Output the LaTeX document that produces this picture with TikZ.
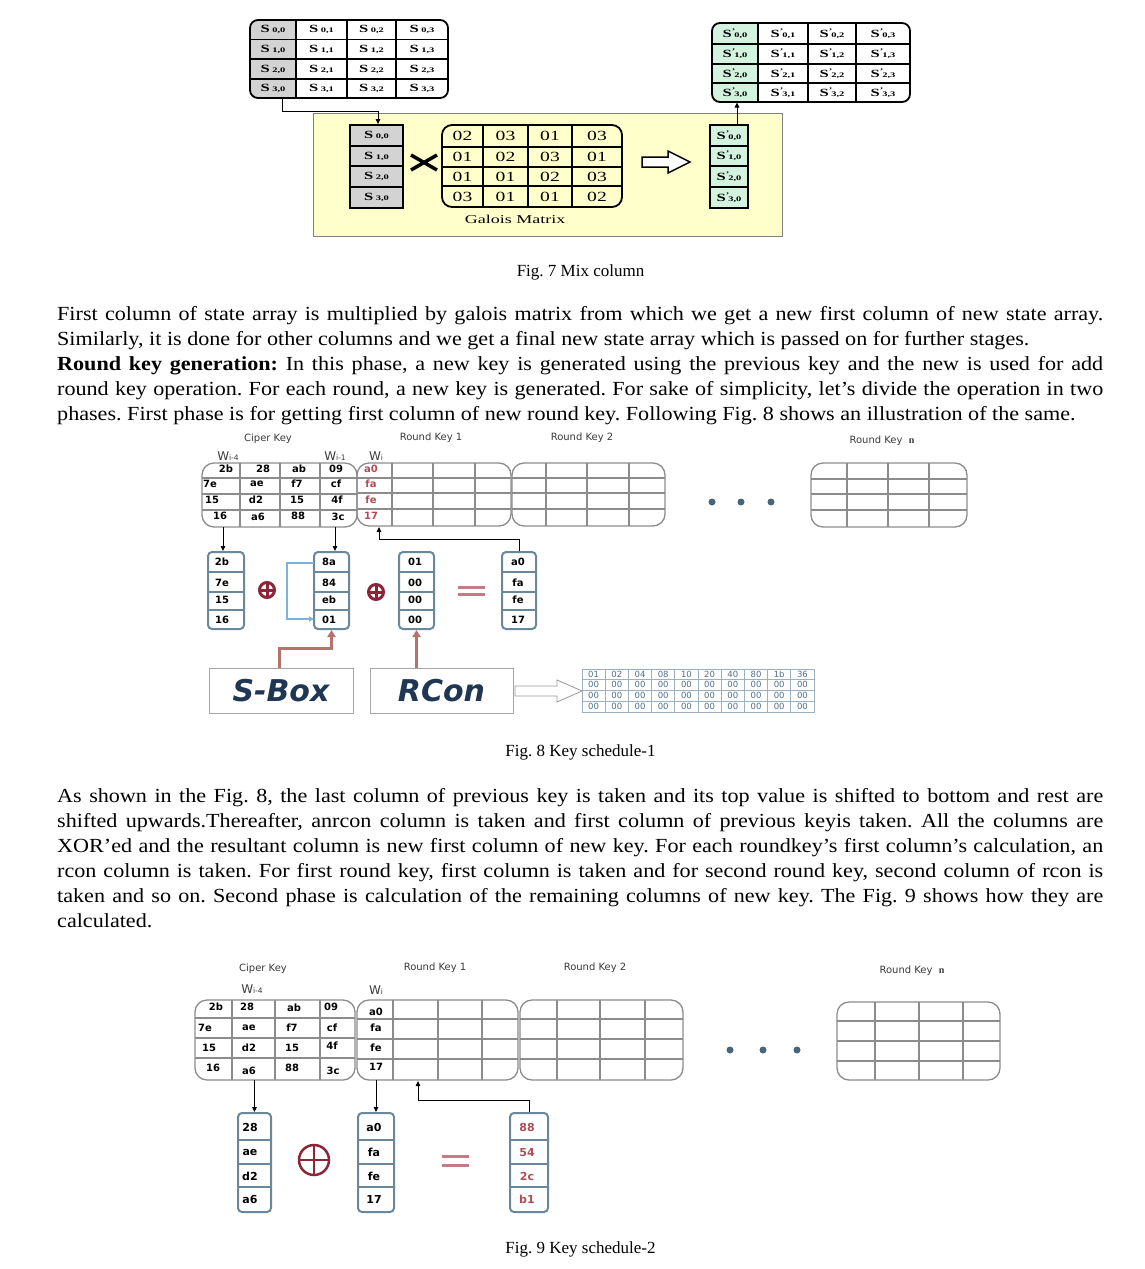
\documentclass[tikz,border=0pt]{standalone}
\usepackage{fontspec}
\usepackage{graphicx}
\setmainfont{Liberation Serif}
\newfontfamily\dvs{DejaVu Sans}
\usetikzlibrary{arrows.meta}
\frenchspacing
\definecolor{sgray}{HTML}{D3D3D3}
\definecolor{sgreen}{HTML}{D3F3DF}
\definecolor{syellow}{HTML}{FFFFCC}
\definecolor{gridgray}{HTML}{8C8C8C}
\definecolor{steel}{HTML}{6A889C}
\definecolor{xred}{HTML}{8E2438}
\definecolor{eqred}{HTML}{C57A84}
\definecolor{kred}{HTML}{B04C56}
\definecolor{brownc}{HTML}{B5736E}
\definecolor{lblue}{HTML}{7DB3D6}
\definecolor{navyc}{HTML}{1F3752}
\definecolor{dotc}{HTML}{46677B}
\definecolor{rcline}{HTML}{9DB0C2}
\definecolor{rctext}{HTML}{4D6F8E}
\definecolor{labgray}{HTML}{3A3A3A}
\newcommand\bodyfont{\fontsize{20}{25}\selectfont\frenchspacing}
\newcommand\jline[1]{\scalebox{1.106}[1]{\hbox to 945.8pt{#1}}}
\newcommand\nline[1]{\scalebox{1.106}[1]{#1}}
\newcommand\stv[1]{\scalebox{1.5}[1]{{\fontsize{11}{11}\selectfont\bfseries S}\,{\fontsize{7}{7}\selectfont\bfseries #1}}}
\newcommand\stvp[1]{\scalebox{1.5}[1]{{\fontsize{11}{11}\selectfont\bfseries S}\rlap{\raisebox{4pt}{\fontsize{7}{7}\selectfont\bfseries '}}\,{\fontsize{7}{7}\selectfont\bfseries #1}}}
\newcommand\wsub[1]{{\fontsize{7.5}{7.5}\selectfont #1}}
\newcommand\kgrid[5]{\def\kxa{#1}\def\kxb{#2}\def\kxc{#3}\def\kxd{#4}\def\kxe{#5}\kgridy}
\newcommand\kgridy[7]{%
 \begin{scope}
  \clip[rounded corners=#6] (\kxa,#1) rectangle (\kxe,#5);
  \draw[#7] (\kxb,#1) -- (\kxb,#5) (\kxc,#1) -- (\kxc,#5) (\kxd,#1) -- (\kxd,#5)
     (\kxa,#2) -- (\kxe,#2) (\kxa,#3) -- (\kxe,#3) (\kxa,#4) -- (\kxe,#4);
 \end{scope}
 \draw[#7, rounded corners=#6] (\kxa,#1) rectangle (\kxe,#5);}
\begin{document}
\begin{tikzpicture}[x=1pt,y=-1pt,
  conn/.style={line width=0.9pt, -{Triangle[length=5pt,width=4.5pt]}},
  tgrid/.style={draw=black, line width=1.8pt},
  ggrid/.style={draw=gridgray, line width=1.3pt},
  txt/.style={inner sep=0pt},
  gal/.style={inner sep=0pt, font=\fontsize{14}{14}\selectfont},
  kt/.style={inner sep=0pt, font=\dvs\bfseries\fontsize{10}{10}\selectfont},
  kt9/.style={inner sep=0pt, font=\dvs\bfseries\fontsize{11}{11}\selectfont},
  lab/.style={inner sep=0pt, text=labgray, font=\dvs\fontsize{10}{10}\selectfont},
  wlab/.style={inner sep=0pt, text=labgray, font=\dvs\fontsize{12}{12}\selectfont},
  colbox/.style={draw=steel, line width=2pt, rounded corners=4pt, fill=white, inner sep=0pt},
  rowl/.style={draw=steel, line width=1.4pt},
  xorsym/.style={circle, draw=xred, line width=#1, inner sep=0pt,
     path picture={\draw[xred, line width=#1] (path picture bounding box.north) -- (path picture bounding box.south)
       (path picture bounding box.west) -- (path picture bounding box.east);}},
  eqbar/.style={draw=eqred, line width=3pt},
  brw/.style={draw=brownc, line width=3pt, -{Triangle[length=7pt,width=8pt]}},
  bloop/.style={draw=lblue, line width=1.8pt, -{Triangle[length=5pt,width=5pt]}},
  opbox/.style={draw=gray!70, line width=0.8pt, inner sep=0pt, text=navyc,
     font=\dvs\bfseries\itshape\fontsize{30}{30}\selectfont},
  rct/.style={inner sep=0pt, text=rctext, font=\dvs\fontsize{8.5}{8.5}\selectfont},
  figcap/.style={inner sep=0pt, anchor=base, font=\fontsize{17}{17}\selectfont},
  bodyline/.style={inner sep=0pt, anchor=base west, font=\bodyfont}]
\useasboundingbox[fill=white] (0,0) rectangle (1145,1269);

%================ Fig. 7 ================
\begin{scope}
 \clip[rounded corners=8pt] (250,20) rectangle (448,98);
 \fill[sgray] (250,20) rectangle (296,98);
\end{scope}
\kgrid{250}{296}{347}{396}{448}{20}{39.5}{59}{79}{98}{8pt}{tgrid}
\foreach \yy [count=\r from 0] in {29.75,49.25,69,88.5}
 \foreach \xx [count=\c from 0] in {273,321.5,371.5,422}
  \node[txt] (sa-\r-\c) at (\xx,\yy) {\stv{\r,\c}};
\begin{scope}
 \clip[rounded corners=8pt] (712,23) rectangle (910,102);
 \fill[sgreen] (712,23) rectangle (758,102);
\end{scope}
\kgrid{712}{758}{808}{856}{910}{23}{44}{64}{83}{102}{8pt}{tgrid}
\foreach \yy [count=\r from 0] in {33.5,54,73.5,92.5}
 \foreach \xx [count=\c from 0] in {735,783,832,883}
  \node[txt] (sb-\r-\c) at (\xx,\yy) {\stvp{\r,\c}};
\draw[fill=syellow, draw=gray, line width=0.8pt] (313,113) rectangle (782,236);
\node[draw, line width=1.8pt, fill=sgray, minimum width=53pt, minimum height=83pt, inner sep=0pt] (ycolL) at (376.5,166.5) {};
\draw[line width=1.2pt] (350,146) -- (403,146) (350,166) -- (403,166) (350,187) -- (403,187);
\foreach \yy [count=\r from 0] in {135.5,156,176.5,197.5}
  \node[txt] (yl-\r) at (376.5,\yy) {\stv{\r,0}};
\draw[line width=3.5pt] (411,155) -- (437,170) (411,170) -- (437,155);
\kgrid{442}{483}{528}{572}{622}{125}{147}{167}{186}{207}{10pt}{tgrid}
\foreach \yy/\ea/\eb/\ec/\ed [count=\r] in {136/02/03/01/03, 157/01/02/03/01, 176.5/01/01/02/03, 196.5/03/01/01/02}{
  \node[gal] (g-\r-1) at (462.5,\yy) {\scalebox{1.4}[1]{\ea}};
  \node[gal] (g-\r-2) at (505.5,\yy) {\scalebox{1.4}[1]{\eb}};
  \node[gal] (g-\r-3) at (550,\yy) {\scalebox{1.4}[1]{\ec}};
  \node[gal] (g-\r-4) at (597,\yy) {\scalebox{1.4}[1]{\ed}};
}
\node[txt, font=\fontsize{12}{12}\selectfont] (galt) at (515,219) {\scalebox{1.5}[1]{Galois Matrix}};
\draw[line width=1.5pt, fill=white] (642,157) -- (668,157) -- (668,151) -- (690,162) -- (668,173) -- (668,167) -- (642,167) -- cycle;
\node[draw, line width=1.8pt, fill=sgreen, minimum width=38pt, minimum height=83pt, inner sep=0pt] (gcol) at (729,166.5) {};
\draw[line width=1.2pt] (710,146) -- (748,146) (710,166) -- (748,166) (710,187) -- (748,187);
\foreach \yy [count=\r from 0] in {135.5,156,176.5,197.5}
  \node[txt] (gr-\r) at (729,\yy) {\stvp{\r,0}};
\coordinate (tlout) at (282,98);
\coordinate (j1) at (378,111);
\draw[conn] (tlout) |- (j1) -- (j1 |- ycolL.north);
\coordinate (trin) at (737,102.5);
\draw[conn] (trin |- gcol.north) -- (trin);
\node[figcap] (cap7) at (580.5,276) {Fig. 7 Mix column};

%================ Text paragraph 1 ================
\node[bodyline] (p1a) at (57,320) {\jline{First column of state array is multiplied by galois matrix from which we get a new first column of new state array.}};
\node[bodyline] (p1b) at (57,345) {\nline{Similarly, it is done for other columns and we get a final new state array which is passed on for further stages.}};
\node[bodyline] (p1c) at (57,370) {\jline{\textbf{Round key generation:} In this phase, a new key is generated using the previous key and the new is used for add}};
\node[bodyline] (p1d) at (57,395) {\jline{round key operation. For each round, a new key is generated. For sake of simplicity, let’s divide the operation in two}};
\node[bodyline] (p1e) at (57,420) {\nline{phases. First phase is for getting first column of new round key. Following Fig. 8 shows an illustration of the same.}};

%================ Fig. 8 ================
\node[lab] (f8ck) at (268,439) {Ciper Key};
\node[lab] (f8r1) at (431,438) {Round Key 1};
\node[lab] (f8r2) at (582,438) {Round Key 2};
\node[lab] (f8rn) at (882,441) {Round Key\ \ {\rmfamily\bfseries n}};
\node[wlab] (f8w4) at (228,456) {W\wsub{i-4}};
\node[wlab] (f8w1) at (335,456) {W\wsub{i-1}};
\node[wlab] (f8wi) at (376,456) {W\wsub{i}};
\kgrid{202}{240}{280}{320}{357}{463}{478}{494}{510}{527}{12pt}{ggrid}
\kgrid{357}{392}{433}{475}{511}{463}{478}{493}{509}{526}{12pt}{ggrid}
\kgrid{512}{546}{587}{629}{665}{463}{478}{493}{509}{526}{12pt}{ggrid}
\kgrid{811}{847}{888}{929}{967}{463}{479}{494}{510}{527}{12pt}{ggrid}
\foreach \xx/\yy/\t [count=\i] in {226/469/2b, 263/469/28, 299/469/ab, 336/469/09,
   210/484/7e, 257/484/ae, 297/484/f7, 336/484/cf,
   212/500/15, 256/500/d2, 297/500/15, 337/500/4f,
   220/516/16, 258/517/a6, 298/516/88, 338/517/3c}
  \node[kt] (ck8-\i) at (\xx,\yy) {\t};
\foreach \yy/\t [count=\i] in {469/a0, 484/fa, 500/fe, 516/17}
  \node[kt, text=kred] (w8-\i) at (371,\yy) {\t};
\foreach \xx in {712,741,771} \fill[dotc] (\xx,502) circle (3.5pt);
\node[colbox, minimum width=36pt, minimum height=77pt] (c8a) at (226,590.5) {};
\node[colbox, minimum width=35pt, minimum height=77pt] (c8b) at (331.5,590.5) {};
\node[colbox, minimum width=35pt, minimum height=77pt] (c8c) at (416.5,590.5) {};
\node[colbox, minimum width=34pt, minimum height=77pt] (c8d) at (519,590.5) {};
\foreach \xa/\xb in {208/244, 314/349, 399/434, 502/536}
  \draw[rowl] (\xa,572) -- (\xb,572) (\xa,592) -- (\xb,592) (\xa,610) -- (\xb,610);
\foreach \yy/\ta/\tb/\tc/\td [count=\i] in {562/2b/8a/01/a0, 583/7e/84/00/fa, 600/15/eb/00/fe, 619.5/16/01/00/17}{
  \node[kt] (c8a-\i) at (222,\yy) {\ta};
  \node[kt] (c8b-\i) at (329,\yy) {\tb};
  \node[kt] (c8c-\i) at (415,\yy) {\tc};
  \node[kt] (c8d-\i) at (518,\yy) {\td};
}
\node[xorsym=3pt, minimum size=15pt] (x8a) at (267,590) {};
\node[xorsym=3pt, minimum size=15pt] (x8b) at (376,592) {};
\draw[eqbar] (458,587) -- (485,587) (458,594) -- (485,594);
\coordinate (ck8c1) at (223,527);
\draw[conn] (ck8c1) -- (ck8c1 |- c8a.north);
\coordinate (ck8c4) at (335,527);
\draw[conn] (ck8c4) -- (ck8c4 |- c8b.north);
\coordinate (rk8in) at (379,527);
\draw[conn] (c8d.north) -- ++(0,-12) -| (rk8in);
\coordinate (lb1) at (314,563);
\coordinate (lb2) at (314,619);
\draw[bloop] (lb1) -- ++(-27,0) |- (lb2);
\node[opbox, minimum width=144pt, minimum height=45pt] (sbox) at (281,690.5) {S-Box};
\node[opbox, minimum width=143pt, minimum height=45pt] (rcon) at (441.5,690.5) {RCon};
\coordinate (sbt) at (279,668);
\draw[brw] (sbt) -- (279,648) -| (c8b.south);
\draw[brw] (rcon.north -| c8c.south) -- (c8c.south);
\draw[draw=gray!80, line width=0.8pt, fill=white] (515,686) -- (557,686) -- (557,680) -- (582,691) -- (557,702) -- (557,696) -- (515,696) -- cycle;
\draw[rcline, line width=0.8pt] (582,669) rectangle (814,712);
\foreach \i in {1,...,9} \draw[rcline, line width=0.8pt] ({582+\i*23.2},669) -- ({582+\i*23.2},712);
\foreach \yy in {679,690,701} \draw[rcline, line width=0.8pt] (582,\yy) -- (814,\yy);
\foreach \t [count=\i from 0] in {01,02,04,08,10,20,40,80,1b,36}
  \node[rct] (rc0-\i) at ({593.6+\i*23.2},674) {\t};
\foreach \r/\yy in {1/684.5,2/695.5,3/706.5}
  \foreach \i in {0,...,9}
    \node[rct] (rc\r-\i) at ({593.6+\i*23.2},\yy) {00};
\node[figcap] (cap8) at (580.5,756) {Fig. 8 Key schedule-1};

%================ Text paragraph 2 ================
\node[bodyline] (p2a) at (57,802) {\jline{As shown in the Fig. 8, the last column of previous key is taken and its top value is shifted to bottom and rest are}};
\node[bodyline] (p2b) at (57,827) {\jline{shifted upwards.Thereafter, anrcon column is taken and first column of previous keyis taken. All the columns are}};
\node[bodyline] (p2c) at (57,852) {\jline{XOR’ed and the resultant column is new first column of new key. For each roundkey’s first column’s calculation, an}};
\node[bodyline] (p2d) at (57,877) {\jline{rcon column is taken. For first round key, first column is taken and for second round key, second column of rcon is}};
\node[bodyline] (p2e) at (57,902) {\jline{taken and so on. Second phase is calculation of the remaining columns of new key. The Fig. 9 shows how they are}};
\node[bodyline] (p2f) at (57,927) {\nline{calculated.}};

%================ Fig. 9 ================
\node[lab] (f9ck) at (263,969) {Ciper Key};
\node[lab] (f9r1) at (435,968) {Round Key 1};
\node[lab] (f9r2) at (595,968) {Round Key 2};
\node[lab] (f9rn) at (912,971) {Round Key\ \ {\rmfamily\bfseries n}};
\node[wlab] (f9w4) at (252,989) {W\wsub{i-4}};
\node[wlab] (f9wi) at (376,990) {W\wsub{i}};
\kgrid{195}{232}{275}{320}{355}{1000}{1018}{1038}{1058}{1080}{12pt}{ggrid}
\kgrid{357}{393}{438}{482}{518}{1000}{1019}{1039}{1059}{1080}{12pt}{ggrid}
\kgrid{520}{557}{600}{645}{683}{1000}{1019}{1039}{1059}{1080}{12pt}{ggrid}
\kgrid{837}{875}{919}{963}{1000}{1002}{1021}{1041}{1061}{1080}{12pt}{ggrid}
\foreach \xx/\yy/\t [count=\i] in {216/1007/2b, 247/1007/28, 294/1008/ab, 331/1007/09,
   205/1028/7e, 249/1028/ae, 292/1028/f7, 332/1028/cf,
   209/1048/15, 249/1048/d2, 292/1048/15, 332/1046/4f,
   213/1068/16, 249/1071/a6, 292/1068/88, 333/1071/3c}
  \node[kt] (ck9-\i) at (\xx,\yy) {\t};
\foreach \yy/\t [count=\i] in {1012/a0, 1028/fa, 1048/fe, 1067/17}
  \node[kt] (w9-\i) at (376,\yy) {\t};
\foreach \xx in {730,763,797} \fill[dotc] (\xx,1050) circle (3.5pt);
\node[colbox, minimum width=33pt, minimum height=99pt] (c9a) at (254.5,1162.5) {};
\node[colbox, minimum width=36pt, minimum height=99pt] (c9b) at (376,1162.5) {};
\node[colbox, minimum width=38pt, minimum height=99pt] (c9c) at (529,1162.5) {};
\foreach \xa/\xb in {238/271, 358/394, 510/548}
  \draw[rowl] (\xa,1140) -- (\xb,1140) (\xa,1164) -- (\xb,1164) (\xa,1187) -- (\xb,1187);
\foreach \yy/\ta/\tb/\tc [count=\i] in {1127.5/28/a0/88, 1152.5/ae/fa/54, 1176/d2/fe/2c, 1199.5/a6/17/b1}{
  \node[kt9] (c9a-\i) at (250,\yy) {\ta};
  \node[kt9] (c9b-\i) at (374,\yy) {\tb};
  \node[kt9, text=kred] (c9c-\i) at (527,\yy) {\tc};
}
\node[xorsym=2.5pt, minimum size=30pt] (x9) at (314,1160) {};
\draw[eqbar] (442,1156) -- (469,1156) (442,1165) -- (469,1165);
\coordinate (f9a) at (254.5,1080);
\draw[conn] (f9a) -- (f9a |- c9a.north);
\coordinate (f9b) at (376,1080);
\draw[conn] (f9b) -- (f9b |- c9b.north);
\coordinate (f9in) at (418,1081);
\draw[conn] (c9c.north) -- ++(0,-12) -| (f9in);
\node[figcap] (cap9) at (580.5,1253) {Fig. 9 Key schedule-2};
\end{tikzpicture}
\end{document}
